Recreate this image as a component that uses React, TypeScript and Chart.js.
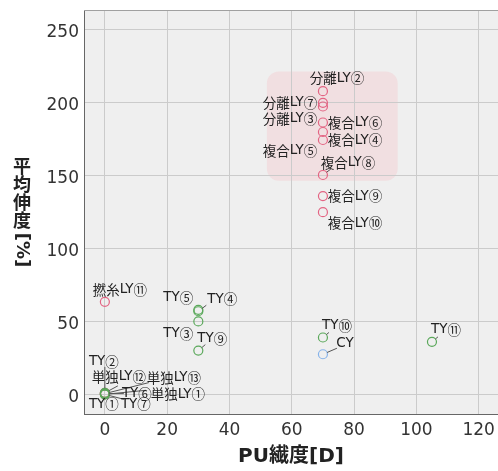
import React, { useEffect, useRef } from 'react';
import { Chart, registerables } from 'chart.js';

Chart.register(...registerables);

// ---- data ----
const pointNames = [
  '分離LY②', '分離LY⑦', '分離LY③', '複合LY⑥', '複合LY⑤', '複合LY④', '複合LY⑧', '複合LY⑨', '複合LY⑩',
  '撚糸LY⑪', '単独LY⑫', '単独LY⑬', '単独LY①',
  'TY⑤', 'TY④', 'TY③', 'TY⑨', 'TY⑩', 'TY⑪', 'TY①', 'TY②', 'TY⑥', 'TY⑦',
  'CY',
];
const pointX = [
  70, 70, 70, 70, 70, 70, 70, 70, 70,
  0, 0, 0, 0,
  30, 30, 30, 30, 70, 105, 0, 0, 0, 0,
  70,
];
const pointY = [
  208, 200, 197.5, 186.5, 180, 174.5, 150.5, 136, 125,
  63.5, 1, 0.5, 0,
  58, 57, 50, 30, 39, 36, 0, 1, 0.5, 0,
  27.5,
];
const pointGroup = [
  'LY', 'LY', 'LY', 'LY', 'LY', 'LY', 'LY', 'LY', 'LY',
  'LY', 'LY', 'LY', 'LY',
  'TY', 'TY', 'TY', 'TY', 'TY', 'TY', 'TY', 'TY', 'TY', 'TY',
  'CY',
];
const groupNames = ['LY', 'TY', 'CY'];
const xTickValues = [0, 20, 40, 60, 80, 100, 120];
const yTickValues = [0, 50, 100, 150, 200, 250];
const xTitle = 'PU繊度[D]';
const yTitleChars = ['平', '均', '伸', '度'];
const yTitleTail = '[%]';
// highlighted region (data units)
const highlightX = [52, 94];
const highlightY = [146.5, 221.5];

// ---- layout / style (not data) ----
const groupColors: Record<string, string> = { LY: '#e36483', TY: '#5aa85a', CY: '#86b3ea' };
const groupOrder: Record<string, number> = { TY: 0, LY: 1, CY: 2 };
// label offsets in px from the point: [dx, dy]
const labelOffsets: Record<string, [number, number]> = {
  '分離LY②': [14, -13], '分離LY⑦': [-33, 0], '分離LY③': [-33, 12], '複合LY⑥': [32, 0],
  '複合LY⑤': [-33, 19], '複合LY④': [32, 0], '複合LY⑧': [25, -12], '複合LY⑨': [32, 0],
  '複合LY⑩': [32, 11], '撚糸LY⑪': [15, -12], '単独LY⑫': [14, -16], '単独LY⑬': [69, -16],
  '単独LY①': [73, 0], 'TY⑤': [-20, -12], 'TY④': [24, -12], 'TY③': [-20, 12],
  'TY⑨': [14, -12], 'TY⑩': [14, -12], 'TY⑪': [14, -12], 'TY①': [-1, 10],
  'TY②': [-1, -31], 'TY⑥': [32, 0], 'TY⑦': [31, 10], 'CY': [22, -11],
};
const leaderEnds: Record<string, [number, number]> = {
  '複合LY⑧': [8, -6], 'TY④': [8, -6], 'TY⑨': [7, -6], 'TY⑩': [6, -5], 'TY⑪': [6, -5],
  'CY': [14, -6], 'TY②': [0, -26], '単独LY⑫': [13, -7], '単独LY⑬': [44, -11],
  'TY⑥': [19, 0], '単独LY①': [41, -4], 'TY⑦': [19, 5],
};
const LABEL_SIZE = 13.5;
const LATIN_FONT = `${LABEL_SIZE}px 'DejaVu Sans', sans-serif`;
const CJK_FONT = `${LABEL_SIZE}px 'Noto Sans CJK JP', sans-serif`;

function splitRuns(text: string): { t: string; latin: boolean }[] {
  const runs: { t: string; latin: boolean }[] = [];
  for (const ch of Array.from(text)) {
    const latin = ch.charCodeAt(0) < 128;
    const last = runs[runs.length - 1];
    if (last && last.latin === latin) last.t += ch;
    else runs.push({ t: ch, latin });
  }
  return runs;
}

function drawMixed(ctx: CanvasRenderingContext2D, text: string, cx: number, cy: number) {
  const runs = splitRuns(text);
  let total = 0;
  const widths = runs.map((r) => {
    ctx.font = r.latin ? LATIN_FONT : CJK_FONT;
    const w = ctx.measureText(r.t).width;
    total += w;
    return w;
  });
  let x = cx - total / 2;
  ctx.textAlign = 'left';
  ctx.textBaseline = 'middle';
  runs.forEach((r, k) => {
    ctx.font = r.latin ? LATIN_FONT : CJK_FONT;
    ctx.fillText(r.t, x, cy);
    x += widths[k];
  });
}

const decorPlugin = {
  id: 'decor',
  beforeDraw(chart: any) {
    const { ctx, chartArea, scales } = chart;
    ctx.save();
    ctx.fillStyle = '#efefef';
    ctx.fillRect(chartArea.left, chartArea.top, chartArea.right - chartArea.left, chartArea.bottom - chartArea.top);
    const x0 = scales.x.getPixelForValue(highlightX[0]);
    const x1 = scales.x.getPixelForValue(highlightX[1]);
    const y0 = scales.y.getPixelForValue(highlightY[1]);
    const y1 = scales.y.getPixelForValue(highlightY[0]);
    ctx.fillStyle = '#f1dfe1';
    ctx.beginPath();
    (ctx as any).roundRect(x0, y0, x1 - x0, y1 - y0, 12);
    ctx.fill();
    ctx.restore();
  },
  afterDatasetsDraw(chart: any) {
    const { ctx, chartArea, scales } = chart;
    ctx.save();
    // top border
    ctx.strokeStyle = '#a0a0a0';
    ctx.lineWidth = 1;
    ctx.beginPath();
    ctx.moveTo(chartArea.left, chartArea.top + 0.5);
    ctx.lineTo(chartArea.right, chartArea.top + 0.5);
    ctx.stroke();
    // leader lines and labels
    for (let i = 0; i < pointNames.length; i++) {
      const name = pointNames[i];
      const px = scales.x.getPixelForValue(pointX[i]);
      const py = scales.y.getPixelForValue(pointY[i]);
      const le = leaderEnds[name];
      if (le) {
        const len = Math.hypot(le[0], le[1]);
        const r = 4.5;
        ctx.strokeStyle = '#555';
        ctx.lineWidth = 1;
        ctx.beginPath();
        ctx.moveTo(px + (le[0] / len) * r, py + (le[1] / len) * r);
        ctx.lineTo(px + le[0], py + le[1]);
        ctx.stroke();
      }
      const off = labelOffsets[name] || [0, -12];
      ctx.fillStyle = '#222';
      drawMixed(ctx, name, px + off[0], py + off[1]);
    }
    // axis titles
    ctx.fillStyle = '#222';
    ctx.font = "bold 20px 'DejaVu Sans', 'Noto Sans CJK JP', sans-serif";
    ctx.textAlign = 'center';
    ctx.textBaseline = 'middle';
    ctx.fillText(xTitle, (chartArea.left + chartArea.right) / 2, 457);
    ctx.font = "bold 18px 'Noto Sans CJK JP', sans-serif";
    yTitleChars.forEach((c, k) => ctx.fillText(c, 22, 166 + k * 18));
    ctx.translate(22, 250);
    ctx.rotate(Math.PI / 2);
    ctx.font = "bold 18px 'DejaVu Sans', sans-serif";
    ctx.fillText(yTitleTail, 0, 0);
    ctx.restore();
  },
};

export default function App() {
  const ref = useRef<HTMLCanvasElement | null>(null);
  useEffect(() => {
    if (!ref.current) return;
    const datasets = groupNames.map((g) => {
      const data: { x: number; y: number }[] = [];
      pointGroup.forEach((pg, i) => {
        if (pg === g) data.push({ x: pointX[i], y: pointY[i] });
      });
      return {
        label: g,
        data,
        order: groupOrder[g],
        showLine: false,
        pointStyle: 'circle',
        pointRadius: 4.5,
        pointBackgroundColor: 'rgba(0,0,0,0)',
        pointBorderColor: groupColors[g],
        pointBorderWidth: 1.2,
      };
    });
    const tickFont = { family: "'DejaVu Sans', sans-serif", size: 17 };
    const chart = new Chart(ref.current, {
      type: 'scatter',
      data: { datasets: datasets as any },
      options: {
        animation: false,
        responsive: false,
        events: [],
        layout: { autoPadding: false, padding: { left: 0, top: 10, right: 0, bottom: 0 } },
        plugins: { legend: { display: false }, tooltip: { enabled: false } },
        scales: {
          x: {
            type: 'linear',
            min: -6.7,
            max: 126.2,
            afterBuildTicks: (s: any) => { s.ticks = xTickValues.map((v) => ({ value: v })); },
            afterFit: (s: any) => { s.height = 57; s.paddingLeft = 0; s.paddingRight = 0; },
            ticks: { font: tickFont, color: '#333', padding: 6, maxRotation: 0 },
            grid: { color: '#cbcbcb', drawTicks: false, lineWidth: 1 },
            border: { display: true, color: '#666', width: 1 },
          },
          y: {
            type: 'linear',
            min: -13.5,
            max: 263.7,
            afterBuildTicks: (s: any) => { s.ticks = yTickValues.map((v) => ({ value: v })); },
            afterFit: (s: any) => { s.width = 84; s.paddingTop = 0; s.paddingBottom = 0; },
            ticks: { font: tickFont, color: '#333', padding: 5, labelOffset: 3 },
            grid: { color: '#cbcbcb', drawTicks: false, lineWidth: 1 },
            border: { display: true, color: '#666', width: 1 },
          },
        },
      },
      plugins: [decorPlugin],
    } as any);
    return () => chart.destroy();
  }, []);
  return (
    <div style={{ position: 'fixed', left: 0, top: 0, width: 498, height: 471, background: '#fff' }}>
      <canvas ref={ref} width={498} height={471} style={{ display: 'block', width: 498, height: 471 }} />
    </div>
  );
}
